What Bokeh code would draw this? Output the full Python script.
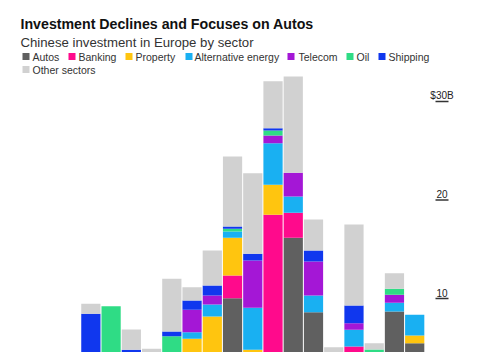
from bokeh.plotting import figure
from bokeh.models import Range1d, Label, BoxAnnotation
from bokeh.core.properties import value
from bokeh.embed import file_html
from bokeh.resources import INLINE

# ---- data (US$ billions), stacked bottom -> top ----
periods = [0, 1, 2, 3, 4, 5, 6, 7, 8, 9, 10, 11, 12, 13, 14, 15, 16, 17]
autos    = [0, 0, 0, 0, 0, 0, 0, 0, 10.03, 0, 0, 16.16, 8.61, 0, 4.55, 0, 8.68, 5.46]
banking  = [0, 0, 0, 0, 0, 0, 0, 3.98, 2.31, 0, 18.5, 2.54, 0, 0, 0.58, 0, 0, 0]
prop     = [0, 0, 0, 0, 0, 0, 5.91, 4.19, 3.82, 4.79, 3.04, 0, 0, 0, 0, 0, 0, 0.78]
alt      = [0, 0, 0, 0, 0, 0, 0.67, 1.22, 0.64, 4.27, 4.23, 1.66, 1.69, 0, 1.69, 0, 0.88, 2.11]
telecom  = [0, 0, 0, 4.39, 0, 4.28, 2.27, 0.91, 0, 4.80, 0.78, 2.40, 3.46, 0, 0.67, 4.28, 0.82, 0]
oil      = [0, 0, 9.22, 0, 0, 1.89, 0, 0, 0.28, 0, 0.51, 0, 0, 0, 0, 0.54, 0.60, 0]
shipping = [0, 8.45, 0, 0.40, 0, 0.48, 0.95, 1.02, 0.23, 0.68, 0.23, 0, 1.11, 0, 1.80, 0, 0, 0]
other    = [4.14, 1.01, 0, 2.06, 4.89, 5.35, 1.35, 3.55, 7.11, 8.18, 4.77, 9.78, 3.15, 5.06, 8.22, 0.64, 1.59, 0]

sectors = ["Autos", "Banking", "Property", "Alternative energy", "Telecom", "Oil", "Shipping", "Other sectors"]
colors = ["#606060", "#ff0a8c", "#ffc50f", "#19b0f2", "#a417d6", "#2fdc85", "#1037ee", "#d1d1d1"]

tick_values = [10, 20, 30]
tick_labels = ["10", "20", "$30B"]

W, H = 477, 352
FONT = "Liberation Sans"
PX_PER_BAR = 20.24
PX_PER_UNIT = 9.85
X0 = -70.12 / PX_PER_BAR
Y0 = (396.5 - H) / PX_PER_UNIT

data = {"x": periods, "Autos": autos, "Banking": banking, "Property": prop,
        "Alternative energy": alt, "Telecom": telecom, "Oil": oil,
        "Shipping": shipping, "Other sectors": other}

p = figure(width=W, height=H, output_backend="svg", toolbar_location=None,
           x_range=Range1d(X0, X0 + W / PX_PER_BAR),
           y_range=Range1d(Y0, Y0 + H / PX_PER_UNIT),
           x_axis_location=None, y_axis_location=None,
           min_border=0, min_border_left=0, min_border_right=0,
           min_border_top=0, min_border_bottom=0)
p.outline_line_color = None
p.grid.visible = False
p.background_fill_color = "white"
p.border_fill_color = "white"

p.vbar_stack(sectors, x="x", width=0.95, color=colors, line_color=None, source=data)

# right-hand value ticks (short marks with the label above)
tick_x0 = X0 + 435 / PX_PER_BAR
tick_x1 = X0 + 448 / PX_PER_BAR
label_x = X0 + 441.5 / PX_PER_BAR
p.segment(x0=[tick_x0] * 3, x1=[tick_x1] * 3, y0=tick_values, y1=tick_values,
          line_color="#333333", line_width=1.3)
p.text(x=[label_x] * 3, y=tick_values, text=tick_labels, y_offset=-6,
       text_align="center", text_baseline="alphabetic",
       text_font=value(FONT), text_font_size="10px", text_color="#222222")

# title & subtitle
p.add_layout(Label(x=20, y=H - 23.3, x_units="screen", y_units="screen",
                   text="Investment Declines and Focuses on Autos",
                   text_font=FONT, text_font_size="14.2px", text_font_style="bold",
                   text_color="#111111", text_baseline="alphabetic"))
p.add_layout(Label(x=20, y=H - 42, x_units="screen", y_units="screen",
                   text="Chinese investment in Europe by sector",
                   text_font=FONT, text_font_size="13.2px",
                   text_color="#333333", text_baseline="alphabetic"))

# legend
leg_sq = [22, 68, 125, 185, 287, 346, 378, 22]
leg_tx = [32, 78, 135, 194, 298, 356, 388, 32]
leg_y = [56, 56, 56, 56, 56, 56, 56, 69]
for name, c, sx, tx, ly in zip(sectors, colors, leg_sq, leg_tx, leg_y):
    p.add_layout(BoxAnnotation(left=sx, right=sx + 7, top=H - ly + 3.5, bottom=H - ly - 3.5,
                               left_units="screen", right_units="screen",
                               top_units="screen", bottom_units="screen",
                               fill_color=c, fill_alpha=1, line_color=None))
    p.add_layout(Label(x=tx, y=H - ly, x_units="screen", y_units="screen", text=name,
                       text_font=FONT, text_font_size="10.5px", text_color="#333333",
                       text_baseline="middle"))

open("out.html", "w").write(file_html(p, INLINE))
